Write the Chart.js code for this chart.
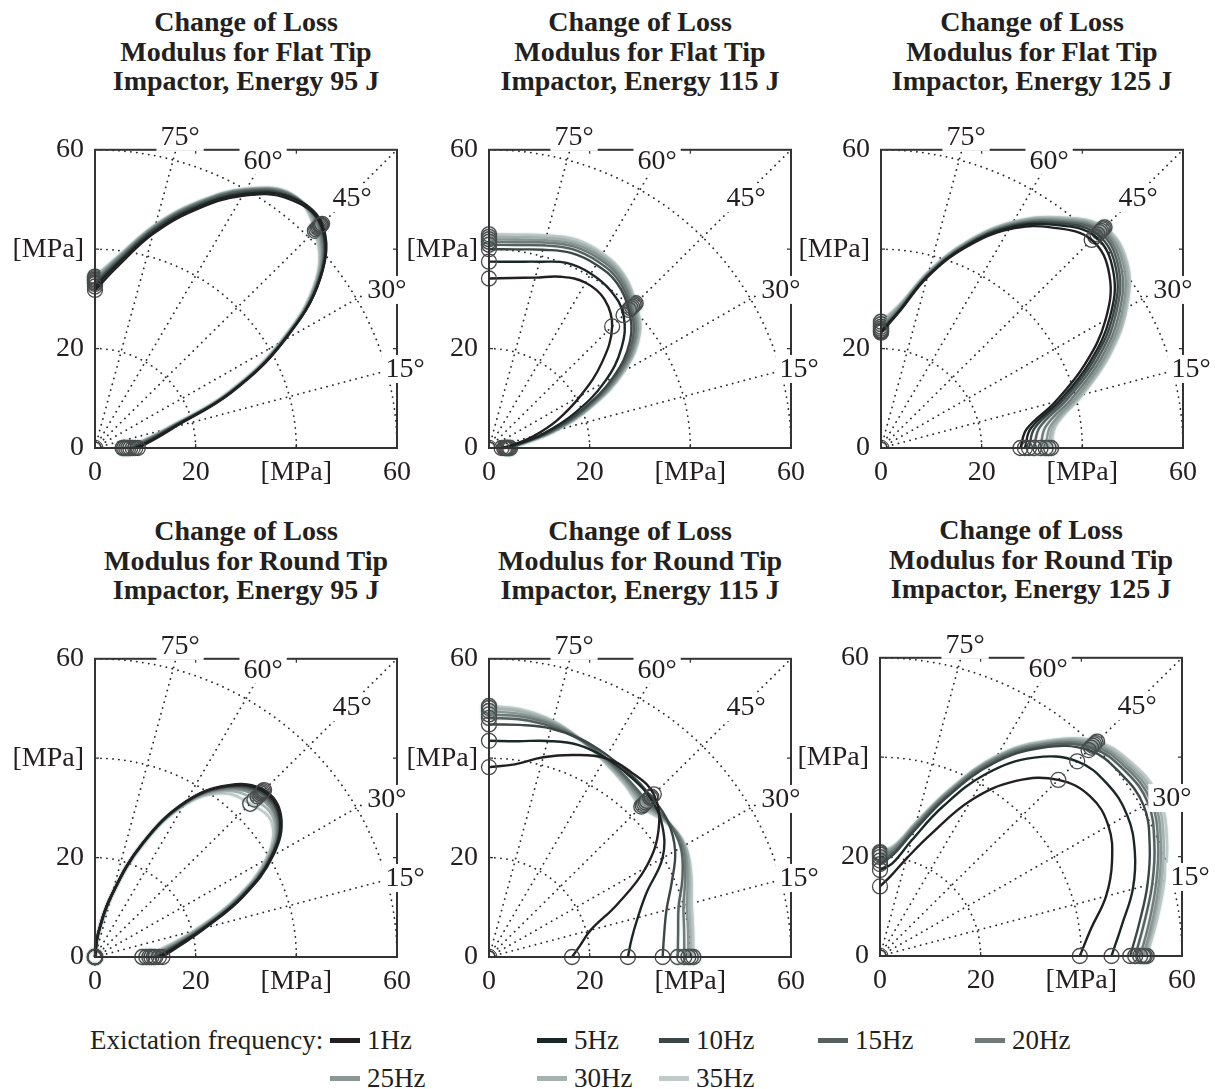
<!DOCTYPE html>
<html>
<head>
<meta charset="utf-8">
<script src="https://cdn.jsdelivr.net/npm/chart.js@4.4.0/dist/chart.umd.min.js"></script>
<style>
  body { margin:0; background:#fff; width:1223px; height:1089px; position:relative; overflow:hidden;
         font-family:"Liberation Serif","Times New Roman",serif; color:#231f20; }
  .title { position:absolute; width:400px; text-align:center; font-weight:bold; font-size:28px; line-height:29.5px; }
  canvas { position:absolute; }
  .leg { position:absolute; font-size:27px; line-height:30px; white-space:nowrap; }
  .sw { position:absolute; height:5px; width:30px; }
</style>
</head>
<body>
<script>
// polar angles (deg) at which the radius of every curve was read
var angles = [0, 7.5, 15, 22.5, 30, 37.5, 45, 52.5, 60, 67.5, 75, 82.5, 90];
var freqLabels = ['1Hz', '5Hz', '10Hz', '15Hz', '20Hz', '25Hz', '30Hz', '35Hz'];
var freqColors = ['#231f20', '#1a2727', '#3b4646', '#56605f', '#707b79', '#8b9795', '#a6b2b0', '#c0cac8'];

var tickValues = [0, 20, 40, 60];
var tickText = ['0', '20', '[MPa]', '60'];
var spokeAngles = [15, 30, 45, 60, 75];
var ringRadii = [20, 40, 60];

// radius [MPa] per frequency (1Hz ... 35Hz), one value per angle
var flat95 = [
  [8.5, 11.5, 16.5, 29.5, 43.5, 56.5, 63.5, 63.2, 58.6, 51.8, 44.6, 37.2, 31.8],
  [8, 11, 16, 29.2, 43.4, 56.5, 63.8, 63.6, 59, 52.3, 45, 37.8, 32.5],
  [7.5, 10.6, 15.8, 29.1, 43.3, 56.3, 63.4, 63.8, 59.4, 52.7, 45.5, 38.2, 33],
  [7, 10.2, 15.5, 29, 43.2, 56.2, 63.2, 64, 59.7, 53, 45.8, 38.5, 33.3],
  [6.6, 9.8, 15.3, 28.8, 43.1, 56, 62.9, 64.1, 59.9, 53.2, 46, 38.8, 33.6],
  [6.2, 9.5, 15, 28.6, 42.9, 55.8, 62.6, 64.2, 60, 53.4, 46.2, 39, 33.9],
  [5.8, 9.2, 14.8, 28.4, 42.7, 55.6, 62.2, 64.2, 60.1, 53.5, 46.4, 39.2, 34.2],
  [5.5, 9, 14.6, 28.2, 42.5, 55.3, 61.8, 64.3, 60.2, 53.6, 46.5, 39.4, 34.5]
];
var flat115 = [
  [2.5, 4.8, 9.1, 14.7, 21, 28.3, 34.6, 37.7, 38.4, 37.3, 35.5, 34.5, 34.1],
  [3, 5.5, 11.2, 18.5, 26.5, 33.2, 37.8, 39.8, 40.5, 40.3, 38.8, 37.8, 37.5],
  [3.2, 5.8, 12.2, 20, 28.5, 35.3, 39.3, 41.8, 42.6, 42.5, 41.3, 40.3, 40],
  [3.4, 6, 12.6, 20.6, 29.2, 36, 39.8, 42.4, 43.3, 43.3, 42.2, 41.2, 40.9],
  [3.6, 6.2, 13, 21.2, 29.8, 36.6, 40.2, 42.9, 43.9, 43.9, 42.8, 41.8, 41.5],
  [3.8, 6.4, 13.3, 21.6, 30.3, 37, 40.6, 43.3, 44.4, 44.4, 43.3, 42.3, 42],
  [4, 6.6, 13.6, 22, 30.7, 37.4, 40.9, 43.7, 44.8, 44.9, 43.8, 42.8, 42.5],
  [4.2, 6.8, 13.9, 22.4, 31.1, 37.8, 41.2, 44, 45.2, 45.4, 44.3, 43.3, 43]
];
var flat125 = [
  [27.7, 29.2, 35.8, 43.8, 51.5, 57.2, 59.2, 55.9, 50.8, 43.6, 35.6, 27.6, 23.2],
  [28.6, 30, 36.7, 44.8, 52.5, 58.2, 60.2, 56.6, 51.2, 43.9, 35.8, 27.8, 23.4],
  [29.4, 30.8, 37.5, 45.6, 53.2, 58.9, 60.8, 57, 51.5, 44.1, 35.9, 27.9, 23.5],
  [30.4, 31.8, 38.4, 46.5, 53.9, 59.5, 61.4, 57.3, 51.7, 44.2, 36, 28, 23.7],
  [31.7, 33, 39.5, 47.4, 54.7, 60.1, 61.8, 57.6, 51.9, 44.4, 36.2, 28.3, 24],
  [32.7, 34, 40.4, 48.2, 55.4, 60.7, 62.2, 57.9, 52.1, 44.6, 36.4, 28.6, 24.4],
  [33.3, 34.6, 41, 48.8, 56, 61.2, 62.5, 58.2, 52.3, 44.8, 36.6, 28.9, 24.9],
  [33.8, 35.1, 41.5, 49.3, 56.4, 61.6, 62.8, 58.5, 52.5, 45, 36.8, 29.2, 25.4]
];
var round95 = [
  [12.7, 16.3, 22.4, 31.6, 40.6, 46.3, 47.2, 43.4, 36, 24.8, 13.1, 4.7, 0],
  [13.4, 16.9, 22.8, 31.9, 40.9, 46.6, 47.5, 43.6, 36.1, 24.9, 13.1, 4.7, 0],
  [12, 15.9, 22.1, 31.4, 40.5, 46.1, 46.9, 43.2, 35.9, 24.7, 13, 4.7, 0],
  [11.7, 15.6, 21.9, 31.2, 40.3, 45.9, 46.6, 43.1, 35.8, 24.7, 13, 4.7, 0],
  [11.2, 15.2, 21.6, 31, 40.1, 45.6, 46.2, 42.8, 35.7, 24.6, 13, 4.6, 0],
  [10.8, 14.8, 21.3, 30.7, 39.9, 45.3, 45.7, 42.5, 35.6, 24.6, 12.9, 4.6, 0],
  [10.2, 14.3, 20.9, 30.4, 39.6, 44.9, 44.8, 42.1, 35.4, 24.5, 12.9, 4.6, 0],
  [9.4, 13.6, 20.4, 30, 39.2, 44.3, 43.6, 41.5, 35.2, 24.4, 12.8, 4.6, 0]
];
var round115 = [
  [16.5, 18.3, 20.9, 27.5, 36, 42.5, 46.3, 46.7, 46.2, 44, 41.6, 39.1, 38.2],
  [27.6, 28.6, 30.6, 33.9, 39.8, 43.4, 45.3, 45.9, 46.3, 46.2, 45, 43.8, 43.5],
  [34.5, 35.1, 36.5, 39.3, 42.7, 44.8, 45.6, 46.3, 46.9, 47.5, 47.6, 47.1, 46.8],
  [37.5, 37.9, 39, 41.6, 44, 44.8, 44.4, 45.2, 46.3, 47.3, 48, 48.2, 48.1],
  [38.8, 39.1, 40, 42.2, 44.4, 44.8, 44, 44.9, 46.1, 47.4, 48.4, 48.8, 48.8],
  [39.6, 39.9, 40.7, 42.7, 44.7, 44.7, 43.6, 44.6, 45.9, 47.4, 48.7, 49.3, 49.5],
  [40.1, 40.4, 41.2, 43.1, 44.9, 44.6, 43.2, 44.3, 45.7, 47.4, 49, 49.8, 50.1],
  [40.6, 40.9, 41.7, 43.5, 45, 44.4, 42.8, 44, 45.5, 47.4, 49.2, 50.2, 50.5]
];
var round125 = [
  [39.7, 42.3, 46.5, 49.9, 52.4, 52.7, 50.1, 44.4, 36.2, 26.6, 20.3, 16.2, 14],
  [46, 48.5, 52, 54.8, 56.7, 56.9, 55.4, 50.3, 42.4, 32.5, 24, 18.8, 17.3],
  [49.7, 52, 55, 58, 60.5, 60.3, 58.6, 52.8, 44.6, 34.5, 26, 20.6, 18.5],
  [50.7, 53, 56, 59, 61.5, 61.3, 59.3, 53.3, 45.2, 35, 26.6, 21.1, 19.2],
  [51.7, 54, 56.8, 59.8, 62.2, 61.9, 59.8, 53.7, 45.7, 35.5, 27.1, 21.6, 19.9],
  [52.3, 54.6, 57.4, 60.4, 62.8, 62.4, 60.2, 54, 46, 35.8, 27.4, 22, 20.4],
  [52.6, 55, 57.9, 61, 63.4, 62.9, 60.6, 54.3, 46.3, 36.1, 27.7, 22.3, 20.7],
  [53, 55.5, 58.5, 61.7, 64, 63.4, 61, 54.6, 46.5, 36.3, 27.9, 22.5, 20.9]
];

var panelTitles = [
  ['Change of Loss', 'Modulus for Flat Tip', 'Impactor, Energy 95 J'],
  ['Change of Loss', 'Modulus for Flat Tip', 'Impactor, Energy 115 J'],
  ['Change of Loss', 'Modulus for Flat Tip', 'Impactor, Energy 125 J'],
  ['Change of Loss', 'Modulus for Round Tip', 'Impactor, Energy 95 J'],
  ['Change of Loss', 'Modulus for Round Tip', 'Impactor, Energy 115 J'],
  ['Change of Loss', 'Modulus for Round Tip', 'Impactor, Energy 125 J']
];
var panelData = [flat95, flat115, flat125, round95, round115, round125];

// angle labels of the polar grid, in axis units
var angleLabels = [
  {x: 16.9, y: 62.6, t: '75°'},
  {x: 33.4, y: 57.9, t: '60°'},
  {x: 51.1, y: 50.3, t: '45°'},
  {x: 58.0, y: 31.8, t: '30°'},
  {x: 61.6, y: 15.9, t: '15°'}
];

// layout of the six plot boxes (pixels)
var boxes = [
  {left: 95, top: 147}, {left: 489, top: 147}, {left: 881, top: 147},
  {left: 95, top: 656}, {left: 489, top: 656}, {left: 880, top: 655}
];
var PW = 302, PH = 301;
var FONT = 'Liberation Serif';

var polarGrid = {
  id: 'polarGrid',
  beforeDatasetsDraw: function(chart) {
    var ctx = chart.ctx, a = chart.chartArea, x = chart.scales.x, y = chart.scales.y;
    var ox = x.getPixelForValue(0), oy = y.getPixelForValue(0);
    var kx = x.getPixelForValue(1) - ox, ky = oy - y.getPixelForValue(1);
    ctx.save();
    ctx.beginPath(); ctx.rect(a.left, a.top, a.width, a.height); ctx.clip();
    ctx.strokeStyle = '#2a2a2a'; ctx.lineWidth = 1.8; ctx.lineCap = 'round';
    ctx.setLineDash([0.1, 5.9]);
    ringRadii.forEach(function(r) {
      ctx.beginPath(); ctx.ellipse(ox, oy, r * kx, r * ky, 0, -Math.PI / 2, 0); ctx.stroke();
    });
    spokeAngles.forEach(function(d) {
      var t = d * Math.PI / 180;
      ctx.beginPath(); ctx.moveTo(ox, oy);
      ctx.lineTo(ox + 90 * kx * Math.cos(t), oy - 90 * ky * Math.sin(t)); ctx.stroke();
    });
    ctx.setLineDash([]); ctx.lineWidth = 1;
    ctx.beginPath(); ctx.ellipse(ox, oy, 1.6 * kx, 1.6 * ky, 0, -Math.PI / 2, 0); ctx.stroke();
    ctx.restore();
  },
  // faint teal halo around the lighter traces, like the scanned figure
  beforeDatasetDraw: function(chart, args) {
    var ctx = chart.ctx;
    ctx.save();
    if (args.index >= 3) {
      ctx.shadowColor = 'rgba(80,125,120,0.35)';
      ctx.shadowBlur = 2;
    }
  },
  afterDatasetDraw: function(chart) {
    chart.ctx.restore();
  },
  afterDatasetsDraw: function(chart) {
    var ctx = chart.ctx, a = chart.chartArea, x = chart.scales.x, y = chart.scales.y;
    ctx.save();
    ctx.strokeStyle = '#333'; ctx.lineWidth = 2;
    ctx.strokeRect(a.left, a.top, a.width, a.height);
    // small inner ticks
    ctx.lineWidth = 1.2;
    [20, 40].forEach(function(v) {
      var px = x.getPixelForValue(v), py = y.getPixelForValue(v);
      ctx.beginPath();
      ctx.moveTo(px, a.bottom); ctx.lineTo(px, a.bottom - 4);
      ctx.moveTo(px, a.top); ctx.lineTo(px, a.top + 4);
      ctx.moveTo(a.left, py); ctx.lineTo(a.left + 4, py);
      ctx.moveTo(a.right, py); ctx.lineTo(a.right - 4, py);
      ctx.stroke();
    });
    ctx.font = '28px "' + FONT + '"';
    ctx.textAlign = 'center'; ctx.textBaseline = 'middle';
    angleLabels.forEach(function(l) {
      var px = x.getPixelForValue(l.x), py = y.getPixelForValue(l.y);
      var w = ctx.measureText(l.t).width;
      ctx.fillStyle = '#fff';
      ctx.fillRect(px - w / 2 - 4, py - 14, w + 8, 28);
      ctx.fillStyle = '#231f20';
      ctx.fillText(l.t, px, py + 1);
    });
    ctx.restore();
  }
};

function axisOpts() {
  return {
    type: 'linear', min: 0, max: 60,
    grid: {display: false, drawTicks: false},
    border: {display: false},
    afterBuildTicks: function(s) { s.ticks = tickValues.map(function(v) { return {value: v}; }); },
    ticks: {
      font: {family: FONT, size: 28}, color: '#231f20', maxRotation: 0, autoSkip: false,
      callback: function(v, i) { return tickText[i]; }
    }
  };
}

function makePanel(p) {
  var box = boxes[p];
  var W = 95 + PW + 45, H = 25 + PH + 52;
  var cv = document.createElement('canvas');
  cv.width = W; cv.height = H;
  cv.style.left = (box.left - 95) + 'px';
  cv.style.top = (box.top - 25) + 'px';
  document.body.appendChild(cv);

  var title = document.createElement('div');
  title.className = 'title';
  title.style.left = (box.left + PW / 2 - 200) + 'px';
  title.style.top = (box.top - 140) + 'px';
  title.innerHTML = panelTitles[p].join('<br>');
  document.body.appendChild(title);

  var datasets = panelData[p].map(function(rs, i) {
    return {
      label: freqLabels[i],
      data: rs.map(function(r, k) {
        var t = angles[k] * Math.PI / 180;
        return {x: r * Math.cos(t), y: r * Math.sin(t)};
      }),
      showLine: true,
      borderColor: freqColors[i],
      borderWidth: 2.4,
      tension: 0.4,
      pointRadius: angles.map(function(a) { return (a === 0 || a === 45 || a === 90) ? 7.5 : 0; }),
      pointBorderColor: '#4a4a4a',
      pointBorderWidth: 1.3,
      pointBackgroundColor: 'rgba(0,0,0,0)',
      clip: false
    };
  });

  var xo = axisOpts(), yo = axisOpts();
  xo.afterFit = function(s) { s.height = 52; };
  xo.ticks.padding = 8;
  yo.afterFit = function(s) { s.width = 95; };
  yo.ticks.padding = 11;

  new Chart(cv, {
    type: 'scatter',
    data: {datasets: datasets},
    options: {
      responsive: false, animation: false, devicePixelRatio: 1,
      layout: {padding: {top: 25, right: 45, left: 0, bottom: 0}},
      plugins: {legend: {display: false}, tooltip: {enabled: false}},
      scales: {x: xo, y: yo}
    },
    plugins: [polarGrid]
  });
}

for (var p = 0; p < 6; p++) makePanel(p);

// legend
var legendPos = [
  {x: 330, y: 1040}, {x: 537, y: 1040}, {x: 659, y: 1040}, {x: 818, y: 1040}, {x: 975, y: 1040},
  {x: 330, y: 1078}, {x: 537, y: 1078}, {x: 659, y: 1078}
];
var head = document.createElement('div');
head.className = 'leg';
head.style.left = '90px'; head.style.top = '1025px';
head.textContent = 'Exictation frequency:';
document.body.appendChild(head);
freqLabels.forEach(function(f, i) {
  var sw = document.createElement('div');
  sw.className = 'sw';
  sw.style.left = legendPos[i].x + 'px';
  sw.style.top = (legendPos[i].y - 2) + 'px';
  sw.style.background = freqColors[i];
  document.body.appendChild(sw);
  var t = document.createElement('div');
  t.className = 'leg';
  t.style.left = (legendPos[i].x + 37) + 'px';
  t.style.top = (legendPos[i].y - 15) + 'px';
  t.textContent = f;
  document.body.appendChild(t);
});
</script>
</body>
</html>
